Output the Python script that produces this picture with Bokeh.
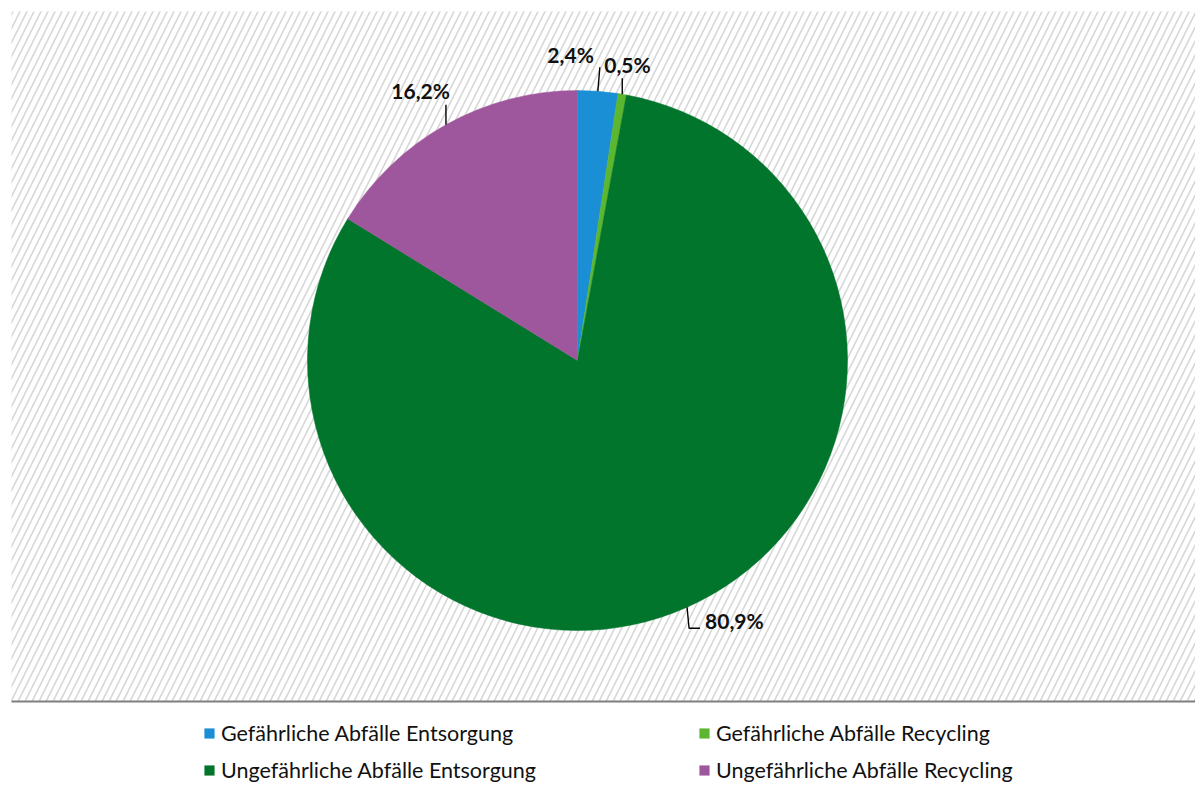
import numpy as np
from bokeh.plotting import figure
from bokeh.models import Range1d, Legend, LegendItem, ColumnDataSource
from bokeh.core.properties import value
from bokeh.embed import file_html
from bokeh.resources import INLINE

# ---- data ----
categories = ["Gefährliche Abfälle Entsorgung", "Gefährliche Abfälle Recycling",
              "Ungefährliche Abfälle Entsorgung", "Ungefährliche Abfälle Recycling"]
shares = [2.4, 0.5, 80.9, 16.2]
share_labels = ["2,4%", "0,5%", "80,9%", "16,2%"]
colors = ["#1a8fd6", "#5cb630", "#00752b", "#9e579d"]

# ---- layout (screen px, y downward from figure top) ----
W, H = 1195, 786
CX, CY, R = 577, 360, 270
HATCH_LEFT, HATCH_TOP, AXIS_Y = 11, 11, 701
leader_offsets = [[(2, -24)], [(0, -16)], [(2, 21), (13, 21)], [(0, -20)]]
text_layout = [("right", -6, -13), ("left", -18, -14), ("left", 5, -8), ("right", 4, -14)]


def Y(sy):
    return H - sy


p = figure(width=W, height=H, x_range=Range1d(0, W), y_range=Range1d(0, H),
           output_backend="svg", toolbar_location=None, min_border=0,
           x_axis_location=None, y_axis_location=None)
p.grid.visible = False
p.outline_line_color = None
p.background_fill_color = "white"
p.border_fill_color = "white"

# hatched plot area
p.quad(left=HATCH_LEFT, right=W, top=Y(HATCH_TOP), bottom=Y(AXIS_Y),
       fill_color="white", line_color=None, hatch_pattern="/",
       hatch_color="#d6d6d6", hatch_scale=14, hatch_weight=1.6)
p.segment(x0=HATCH_LEFT, y0=Y(AXIS_Y), x1=W, y1=Y(AXIS_Y), line_color="#7f7f7f", line_width=2)

# pie
frac = np.array(shares) / sum(shares)
cum = np.concatenate([[0.0], np.cumsum(frac)])
start = np.pi / 2 - 2 * np.pi * cum[:-1]
end = np.pi / 2 - 2 * np.pi * cum[1:]
src = ColumnDataSource(dict(start=start, end=end, color=colors, label=categories))
wr = p.wedge(x=CX, y=Y(CY), radius=R, start_angle="start", end_angle="end",
             direction="clock", fill_color="color", line_color="color",
             line_width=0.5, source=src)

# labels with leader lines
mid = (cum[:-1] + cum[1:]) / 2 * 2 * np.pi
ax = CX + R * np.sin(mid)
ay = CY - R * np.cos(mid)
xs, ys, tx, ty, talign = [], [], [], [], []
for i in range(len(shares)):
    px_ = [ax[i]] + [ax[i] + dx for dx, dy in leader_offsets[i]]
    py_ = [ay[i]] + [ay[i] + dy for dx, dy in leader_offsets[i]]
    xs.append(list(px_))
    ys.append([Y(v) for v in py_])
    al, tdx, tdy = text_layout[i]
    tx.append(px_[-1] + tdx)
    ty.append(Y(py_[-1] + tdy))
    talign.append(al)
p.multi_line(xs=xs, ys=ys, line_color="black", line_width=1.4)
lsrc = ColumnDataSource(dict(x=tx, y=ty, text=share_labels, align=talign))
p.text(x="x", y="y", text="text", text_align="align", text_baseline="alphabetic",
       text_font=value("Lato"), text_font_style="bold", text_font_size="21px",
       text_color="#111111", source=lsrc)

# legend (two columns)
items = [LegendItem(label=categories[i], renderers=[wr], index=i) for i in range(4)]
for cols, xloc in (([0, 2], 203), ([1, 3], 698)):
    leg = Legend(items=[items[c] for c in cols], location=(xloc, 3),
                 border_line_alpha=0, background_fill_alpha=0, padding=0, margin=0,
                 spacing=11, glyph_width=12, glyph_height=12, label_standoff=6,
                 label_height=26, label_text_font="Lato", label_text_font_size="21.5px",
                 label_text_color="#111111")
    p.add_layout(leg)

open("out.html", "w").write(file_html(p, INLINE))
